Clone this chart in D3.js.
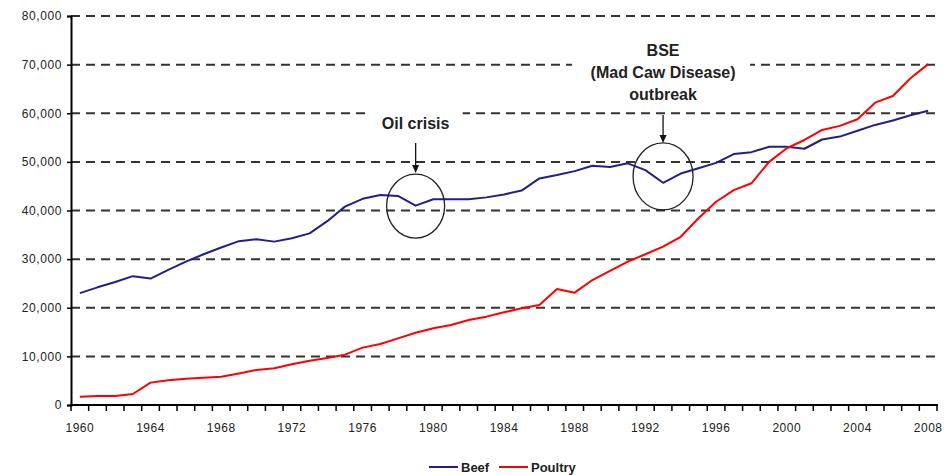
<!DOCTYPE html>
<html>
<head>
<meta charset="utf-8">
<script src="https://cdn.jsdelivr.net/npm/d3@7"></script>
<style>
  html, body { margin: 0; padding: 0; background: #fff; }
  svg { display: block; font-family: "Liberation Sans", Arial, sans-serif; }
</style>
</head>
<body>
<svg id="chart" width="949" height="475"></svg>
<script>
const years = d3.range(1960, 2009);
const beef = [23000, 24200, 25300, 26500, 26000, 27800, 29500, 31000, 32400, 33700,
  34100, 33600, 34300, 35300, 37800, 40800, 42400, 43200, 43000, 41000,
  42300, 42300, 42300, 42700, 43300, 44100, 46600, 47300, 48100, 49200,
  48950, 49700, 48300, 45700, 47600, 48700, 49800, 51600, 52000, 53100,
  53100, 52700, 54600, 55200, 56400, 57600, 58500, 59600, 60500];
const poultry = [1700, 1850, 1850, 2260, 4600, 5070, 5420, 5620, 5830, 6500,
  7200, 7540, 8360, 9100, 9670, 10350, 11800, 12540, 13700, 14870,
  15770, 16450, 17480, 18170, 19070, 19880, 20570, 23860, 23100, 25700,
  27600, 29500, 31000, 32560, 34600, 38400, 41800, 44200, 45600, 50000,
  52800, 54500, 56560, 57400, 58760, 62180, 63550, 67200, 70100];
const yTicks = [0, 10000, 20000, 30000, 40000, 50000, 60000, 70000, 80000];
const xLabels = [1960, 1964, 1968, 1972, 1976, 1980, 1984, 1988, 1992, 1996, 2000, 2004, 2008];
const seriesNames = ["Beef", "Poultry"];
const seriesColors = ["#20208c", "#ff0000"];
const annotations = [
  { year: 1979, lines: ["Oil crisis"] },
  { year: 1993, lines: ["BSE", "(Mad Caw Disease)", "outbreak"] }
];

const svg = d3.select("#chart");
const L = 71, R = 937, T = 16, B = 405;

const x = d3.scaleBand().domain(years).range([L, R]).padding(0);
const cx = d => x(d) + x.bandwidth() / 2;
const y = d3.scaleLinear().domain([0, 80000]).range([B, T]);

// gridlines
svg.append("g").selectAll("line").data(yTicks.filter(d => d > 0)).join("line")
  .attr("x1", L).attr("x2", R)
  .attr("y1", d => y(d)).attr("y2", d => y(d))
  .attr("stroke", "#333").attr("stroke-width", 2)
  .attr("stroke-dasharray", "9,6");

// annotation background boxes
const oil = annotations[0], bse = annotations[1];
const oilX = cx(oil.year), bseX = cx(bse.year);
svg.append("rect").attr("x", oilX - 48).attr("y", y(60000) - 8).attr("width", 95).attr("height", 30).attr("fill", "#fff");
svg.append("rect").attr("x", bseX - 91).attr("y", 36).attr("width", 178).attr("height", 70).attr("fill", "#fff");

// y axis
const yAxis = svg.append("g").attr("transform", `translate(${L},0)`)
  .call(d3.axisLeft(y).tickValues(yTicks).tickFormat(d3.format(",")).tickSize(4).tickPadding(5));
yAxis.select(".domain").attr("stroke", "#000").attr("stroke-width", 2);
yAxis.selectAll(".tick line").attr("stroke", "#000").attr("stroke-width", 1.5);
yAxis.selectAll(".tick text").attr("font-size", 12).attr("fill", "#222")
  .attr("font-family", "'Liberation Sans', Arial, sans-serif").attr("letter-spacing", "0.6");

// x axis ticks at band boundaries
const bounds = years.map(d => x(d)).concat([R]);
svg.append("g").selectAll("line").data(bounds).join("line")
  .attr("x1", d => d).attr("x2", d => d).attr("y1", B).attr("y2", B + 6)
  .attr("stroke", "#000").attr("stroke-width", 1.5);
svg.append("line").attr("x1", L - 1).attr("x2", R + 1).attr("y1", B).attr("y2", B)
  .attr("stroke", "#000").attr("stroke-width", 2);
svg.append("g").selectAll("text").data(xLabels).join("text")
  .attr("x", d => cx(d)).attr("y", 432)
  .attr("text-anchor", "middle").attr("font-size", 12).attr("fill", "#222")
  .attr("letter-spacing", "0.5")
  .text(d => d);

// lines
const lineGen = vals => d3.line().x((d, i) => cx(years[i])).y(d => y(d))(vals);
[beef, poultry].forEach((vals, k) => {
  svg.append("path").attr("d", lineGen(vals)).attr("fill", "none")
    .attr("stroke", seriesColors[k]).attr("stroke-width", 2).attr("stroke-linejoin", "round");
});

// annotations text
svg.append("text").attr("x", oilX).attr("y", y(60000) + 16).attr("text-anchor", "middle")
  .attr("font-size", 16).attr("font-weight", "bold").attr("fill", "#222").text(oil.lines[0]);
bse.lines.forEach((t, i) => {
  svg.append("text").attr("x", bseX).attr("y", 56 + i * 22).attr("text-anchor", "middle")
    .attr("font-size", 16).attr("font-weight", "bold").attr("fill", "#222").text(t);
});

// arrows
function arrow(xp, y1, y2) {
  svg.append("line").attr("x1", xp).attr("x2", xp).attr("y1", y1).attr("y2", y2 - 7)
    .attr("stroke", "#111").attr("stroke-width", 1.3);
  svg.append("path").attr("d", `M${xp - 3.5},${y2 - 8} L${xp + 3.5},${y2 - 8} L${xp},${y2} Z`).attr("fill", "#111");
}
arrow(oilX, 143, 173);
arrow(bseX, 115, 143);

// ellipses
svg.append("ellipse").attr("cx", oilX).attr("cy", y(40900)).attr("rx", 29).attr("ry", 32)
  .attr("fill", "none").attr("stroke", "#222").attr("stroke-width", 1.3);
svg.append("ellipse").attr("cx", bseX).attr("cy", y(47000)).attr("rx", 30).attr("ry", 33.5)
  .attr("fill", "none").attr("stroke", "#222").attr("stroke-width", 1.3);

// legend
const leg = svg.append("g");
const legX = [429, 499];
seriesNames.forEach((n, i) => {
  leg.append("line").attr("x1", legX[i]).attr("x2", legX[i] + 29).attr("y1", 467).attr("y2", 467)
    .attr("stroke", seriesColors[i]).attr("stroke-width", 2);
  leg.append("text").attr("x", legX[i] + 32).attr("y", 471.5).attr("font-size", 13)
    .attr("font-weight", "bold").attr("fill", "#222").text(n);
});
</script>
</body>
</html>
